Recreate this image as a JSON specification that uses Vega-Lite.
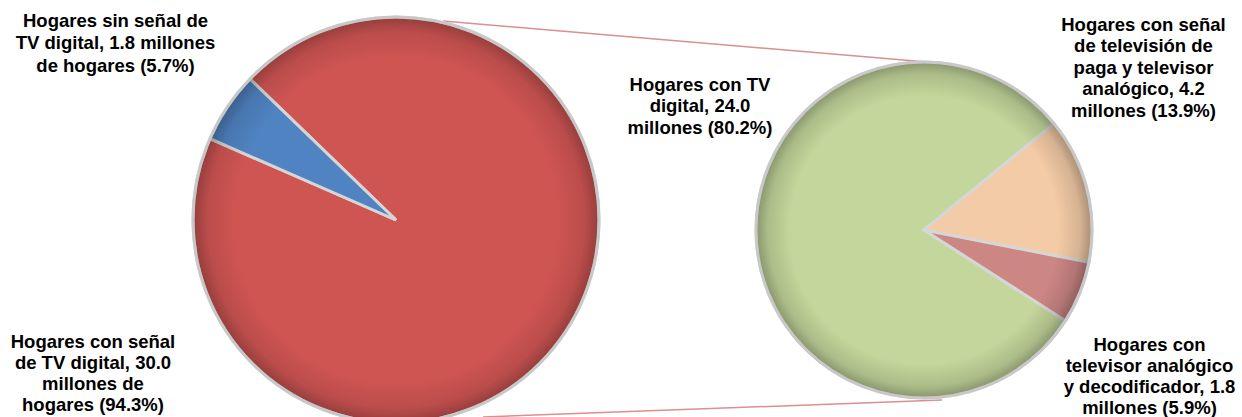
{
  "$schema": "https://vega.github.io/schema/vega-lite/v6.json",
  "width": 1242,
  "height": 417,
  "padding": 0,
  "autosize": {"type": "none"},
  "background": "white",
  "config": {"view": {"stroke": null}},
  "layer": [
    {
      "data": {"values": [{"tramo": "superior"}]},
      "mark": {"type": "rule", "color": "#D9908E", "strokeWidth": 1.5},
      "encoding": {
        "x": {"datum": 443, "type": "quantitative", "scale": {"domain": [0, 1242], "nice": false, "zero": false}, "axis": null},
        "y": {"datum": 21, "type": "quantitative", "scale": {"domain": [0, 417], "nice": false, "zero": false, "reverse": true}, "axis": null},
        "x2": {"datum": 927},
        "y2": {"datum": 62}
      }
    },
    {
      "data": {"values": [{"tramo": "inferior"}]},
      "mark": {"type": "rule", "color": "#D9908E", "strokeWidth": 1.5},
      "encoding": {
        "x": {"datum": 483, "type": "quantitative"},
        "y": {"datum": 417, "type": "quantitative"},
        "x2": {"datum": 942},
        "y2": {"datum": 400}
      }
    },
    {
      "data": {"values": [
        {"categoria": "Hogares con señal de TV digital", "millones": 30.0},
        {"categoria": "Hogares sin señal de TV digital", "millones": 1.8}
      ]},
      "mark": {"type": "arc", "outerRadius": 203, "stroke": "#D6D6D6", "strokeWidth": 3},
      "encoding": {
        "x": {"datum": 396, "type": "quantitative"},
        "y": {"datum": 220, "type": "quantitative"},
        "theta": {"field": "millones", "type": "quantitative", "stack": true, "scale": {"range": [-0.8029, 5.4803]}},
        "order": {"field": "millones", "type": "quantitative", "sort": "descending"},
        "color": {"field": "categoria", "type": "nominal", "legend": null,
          "scale": {"domain": ["Hogares con señal de TV digital", "Hogares sin señal de TV digital"], "range": ["#CF5553", "#5083C2"]}}
      }
    },
    {
      "data": {"values": [{"pastel": "izquierdo"}]},
      "mark": {"type": "arc", "outerRadius": 203, "theta": 0, "theta2": 6.2832, "stroke": "#C8C8C8", "strokeWidth": 3,
        "fill": {"gradient": "radial", "x1": 0.5, "y1": 0.5, "r1": 0, "x2": 0.5, "y2": 0.5, "r2": 0.5,
          "stops": [
            {"offset": 0, "color": "rgba(0,0,0,0)"},
            {"offset": 0.8, "color": "rgba(0,0,0,0)"},
            {"offset": 0.93, "color": "rgba(0,0,0,0.10)"},
            {"offset": 1, "color": "rgba(0,0,0,0.28)"}
          ]}},
      "encoding": {
        "x": {"datum": 396, "type": "quantitative"},
        "y": {"datum": 220, "type": "quantitative"}
      }
    },
    {
      "data": {"values": [
        {"categoria": "Hogares con TV digital", "millones": 24.0},
        {"categoria": "Hogares con señal de televisión de paga y televisor analógico", "millones": 4.2},
        {"categoria": "Hogares con televisor analógico y decodificador", "millones": 1.8}
      ]},
      "mark": {"type": "arc", "outerRadius": 168, "stroke": "#D6D6D6", "strokeWidth": 3},
      "encoding": {
        "x": {"datum": 924, "type": "quantitative"},
        "y": {"datum": 230, "type": "quantitative"},
        "theta": {"field": "millones", "type": "quantitative", "stack": true, "scale": {"range": [2.1415, 8.4247]}},
        "order": {"field": "millones", "type": "quantitative", "sort": "descending"},
        "color": {"field": "categoria", "type": "nominal", "legend": null,
          "scale": {"domain": ["Hogares con TV digital", "Hogares con señal de televisión de paga y televisor analógico", "Hogares con televisor analógico y decodificador"],
            "range": ["#C3D69B", "#F3CBA6", "#CC8684"]}}
      }
    },
    {
      "data": {"values": [{"pastel": "derecho"}]},
      "mark": {"type": "arc", "outerRadius": 168, "theta": 0, "theta2": 6.2832, "stroke": "#C8C8C8", "strokeWidth": 3,
        "fill": {"gradient": "radial", "x1": 0.5, "y1": 0.5, "r1": 0, "x2": 0.5, "y2": 0.5, "r2": 0.5,
          "stops": [
            {"offset": 0, "color": "rgba(0,0,0,0)"},
            {"offset": 0.8, "color": "rgba(0,0,0,0)"},
            {"offset": 0.93, "color": "rgba(0,0,0,0.12)"},
            {"offset": 1, "color": "rgba(0,0,0,0.30)"}
          ]}},
      "encoding": {
        "x": {"datum": 924, "type": "quantitative"},
        "y": {"datum": 230, "type": "quantitative"}
      }
    },
    {
      "data": {"values": [{"texto": "Hogares sin señal de\nTV digital, 1.8 millones\nde hogares (5.7%)"}]},
      "mark": {"type": "text", "font": "Liberation Sans", "fontWeight": "bold", "fontSize": 18.5, "lineHeight": 22.5, "lineBreak": "\n", "align": "center", "baseline": "alphabetic", "color": "#000000"},
      "encoding": {
        "x": {"datum": 115.5, "type": "quantitative"},
        "y": {"datum": 26.5, "type": "quantitative"},
        "text": {"field": "texto"}
      }
    },
    {
      "data": {"values": [{"texto": "Hogares con señal\nde TV digital, 30.0\nmillones de\nhogares (94.3%)"}]},
      "mark": {"type": "text", "font": "Liberation Sans", "fontWeight": "bold", "fontSize": 18.5, "lineHeight": 21.3, "lineBreak": "\n", "align": "center", "baseline": "alphabetic", "color": "#000000"},
      "encoding": {
        "x": {"datum": 93, "type": "quantitative"},
        "y": {"datum": 347.5, "type": "quantitative"},
        "text": {"field": "texto"}
      }
    },
    {
      "data": {"values": [{"texto": "Hogares con TV\ndigital, 24.0\nmillones (80.2%)"}]},
      "mark": {"type": "text", "font": "Liberation Sans", "fontWeight": "bold", "fontSize": 18.5, "lineHeight": 21.5, "lineBreak": "\n", "align": "center", "baseline": "alphabetic", "color": "#000000"},
      "encoding": {
        "x": {"datum": 700, "type": "quantitative"},
        "y": {"datum": 90.7, "type": "quantitative"},
        "text": {"field": "texto"}
      }
    },
    {
      "data": {"values": [{"texto": "Hogares con señal\nde televisión de\npaga y televisor\nanalógico, 4.2\nmillones (13.9%)"}]},
      "mark": {"type": "text", "font": "Liberation Sans", "fontWeight": "bold", "fontSize": 18.5, "lineHeight": 21.5, "lineBreak": "\n", "align": "center", "baseline": "alphabetic", "color": "#000000"},
      "encoding": {
        "x": {"datum": 1143.5, "type": "quantitative"},
        "y": {"datum": 30.5, "type": "quantitative"},
        "text": {"field": "texto"}
      }
    },
    {
      "data": {"values": [{"texto": "Hogares con\ntelevisor analógico\ny decodificador, 1.8\nmillones (5.9%)"}]},
      "mark": {"type": "text", "font": "Liberation Sans", "fontWeight": "bold", "fontSize": 18.5, "lineHeight": 21.2, "lineBreak": "\n", "align": "center", "baseline": "alphabetic", "color": "#000000"},
      "encoding": {
        "x": {"datum": 1149.5, "type": "quantitative"},
        "y": {"datum": 350.5, "type": "quantitative"},
        "text": {"field": "texto"}
      }
    }
  ],
  "resolve": {"scale": {"theta": "independent", "color": "independent"}}
}
